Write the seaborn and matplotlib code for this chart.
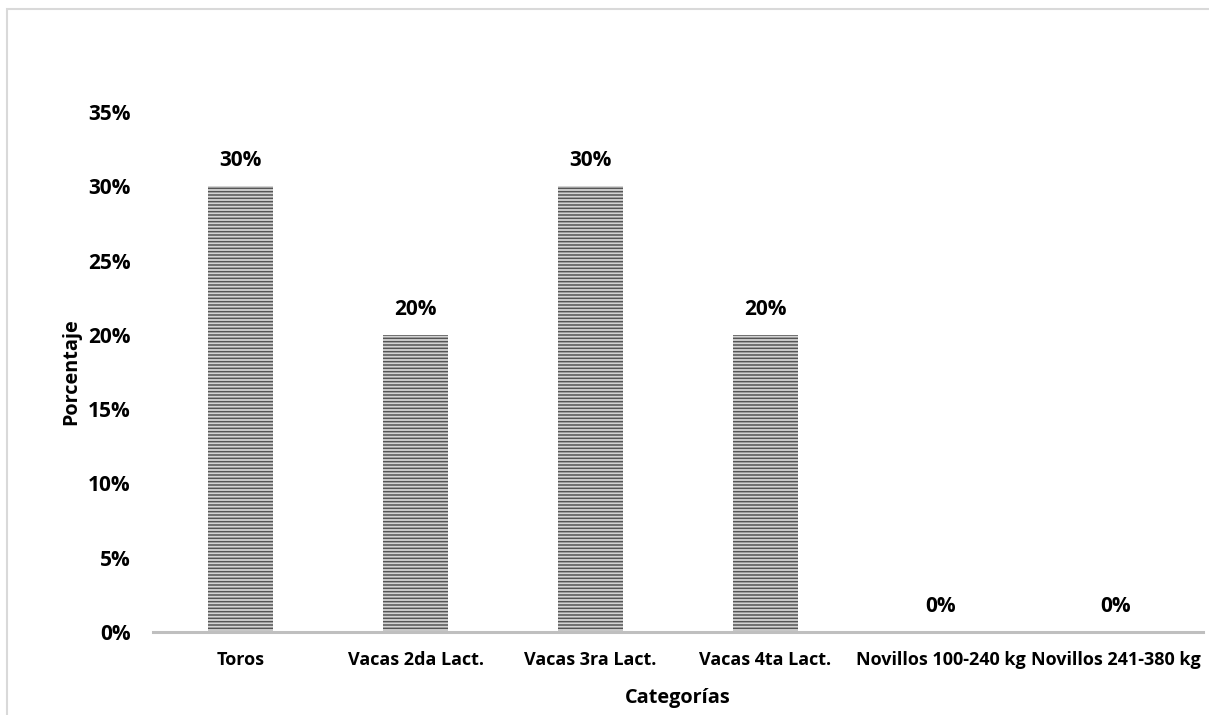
import matplotlib
matplotlib.use("Agg")
import matplotlib.pyplot as plt
import seaborn as sns
import pandas as pd
from matplotlib.patches import Rectangle
from matplotlib.ticker import PercentFormatter

categories = ["Toros", "Vacas 2da Lact.", "Vacas 3ra Lact.", "Vacas 4ta Lact.",
              "Novillos 100-240 kg", "Novillos 241-380 kg"]
values = [0.30, 0.20, 0.30, 0.20, 0.0, 0.0]
y_ticks = [0, 0.05, 0.10, 0.15, 0.20, 0.25, 0.30, 0.35]

sns.set_theme(style="white")
plt.rcParams['font.family'] = ['Open Sans', 'DejaVu Sans']
plt.rcParams['hatch.color'] = '#555555'
plt.rcParams['hatch.linewidth'] = 1.1

df = pd.DataFrame({"Categorías": categories, "Porcentaje": values})

fig = plt.figure(figsize=(12.09, 7.15), dpi=100)
ax = fig.add_axes([153/1209, 1-632/715, 1050/1209, (632-112)/715])

sns.barplot(data=df, x="Categorías", y="Porcentaje", color="#d4d4d4",
            width=0.377, ax=ax, saturation=1, edgecolor="none", linewidth=0)
for p in ax.patches:
    p.set_hatch('-----')
    p.set_edgecolor('#555555')
    p.set_linewidth(0)

ax.set_ylim(0, 0.35)
ax.set_xlim(-0.5, len(categories) - 0.5)
ax.set_yticks(y_ticks)
ax.yaxis.set_major_formatter(PercentFormatter(1.0, decimals=0))

for c in ax.containers:
    ax.bar_label(c, labels=[f"{v*100:.0f}%" for v in values], padding=11,
                 fontsize=15, fontweight='bold', color='#000000')

for s in ["top", "right", "left"]:
    ax.spines[s].set_visible(False)
ax.spines["bottom"].set_color("#bfbfbf")
ax.spines["bottom"].set_linewidth(2.2)
ax.tick_params(axis='both', length=0)
ax.tick_params(axis='y', pad=16, labelsize=15)
ax.tick_params(axis='x', pad=14, labelsize=13)
for lbl in ax.get_xticklabels() + ax.get_yticklabels():
    lbl.set_fontweight('bold')
    lbl.set_color('black')

ax.set_xlabel("Categorías", fontsize=14.3, fontweight='bold', labelpad=13, color='black')
ax.set_ylabel("Porcentaje", fontsize=14.3, fontweight='bold', labelpad=5, color='black')
ax.grid(False)

fig.patches.append(Rectangle((7/1209, -0.1), 1.2, 1.1 - 9/715, transform=fig.transFigure,
                             fill=False, edgecolor='#d9d9d9', linewidth=1.5, zorder=-1))

fig.savefig("out.png", dpi=100)
